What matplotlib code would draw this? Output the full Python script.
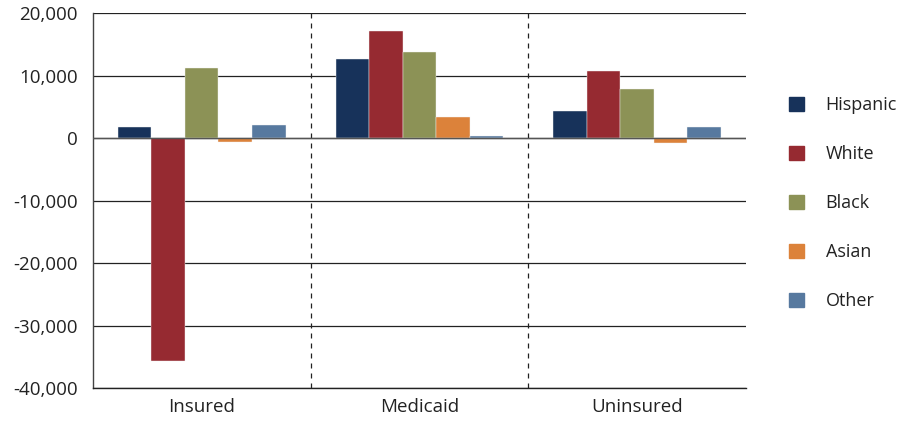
import matplotlib.pyplot as plt
import matplotlib.patches as mpatches
import numpy as np

plt.rcParams['font.family'] = ['Open Sans', 'DejaVu Sans']

categories = ['Insured', 'Medicaid', 'Uninsured']
groups = ['Hispanic', 'White', 'Black', 'Asian', 'Other']
hispanic = [1800, 12700, 4400]
white = [-35600, 17100, 10800]
black = [11200, 13700, 7900]
asian = [-600, 3400, -800]
other = [2150, 300, 1800]
series = [hispanic, white, black, asian, other]
colors = ['#17325A', '#962A31', '#8C9256', '#DC823A', '#57799F']
y_ticks = [-40000, -30000, -20000, -10000, 0, 10000, 20000]

fig = plt.figure(figsize=(9.01, 4.21), dpi=100)
ax = fig.add_axes([0.103, 0.078, 0.725, 0.891])

x = np.arange(len(categories))
w = 0.154
for i, (vals, c) in enumerate(zip(series, colors)):
    ax.bar(x + (i - 2) * w, vals, width=w, color=c, edgecolor='#f4f4f4',
           linewidth=0.3, zorder=3, label=groups[i])

ax.set_xlim(-0.5, 2.5)
ax.set_ylim(-40000, 20000)
ax.set_yticks(y_ticks)
ax.set_yticklabels(['{:,}'.format(v) for v in y_ticks], fontsize=13.5, color='#222222')
ax.set_xticks(x)
ax.set_xticklabels(categories, fontsize=13.5, color='#222222')
ax.tick_params(axis='y', length=0, pad=11)
ax.tick_params(axis='x', length=0, pad=7)
ax.yaxis.grid(True, color='#222222', linewidth=0.9, zorder=1)
ax.axhline(0, color='#555555', linewidth=1.0, zorder=4)
for xv in [0.5, 1.5]:
    ax.axvline(xv, color='#222222', linestyle=(0, (4, 4)), linewidth=0.9, zorder=1)
for s in ['top', 'right']:
    ax.spines[s].set_visible(False)
ax.spines['left'].set_color('#444444')
ax.spines['bottom'].set_color('#222222')
ax.spines['left'].set_linewidth(1.0)
ax.spines['bottom'].set_linewidth(1.0)

handles = [mpatches.Patch(color=c) for c in colors]
fig.legend(handles, groups, loc='upper left', bbox_to_anchor=(0.8757, 0.772),
           frameon=False, fontsize=13, handlelength=0.83, handleheight=0.83,
           handletextpad=1.2, labelspacing=1.72, borderpad=0, borderaxespad=0,
           labelcolor='#222222')

fig.savefig('out.png', dpi=100)
